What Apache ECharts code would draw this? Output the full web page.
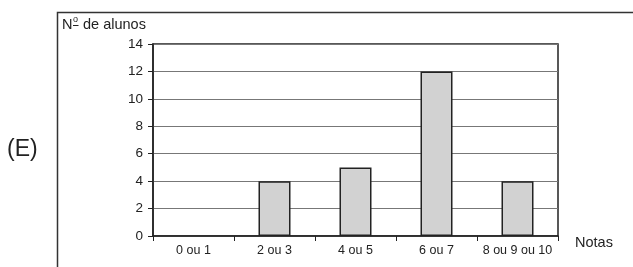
<!DOCTYPE html>
<html>
<head>
<meta charset="utf-8">
<script src="https://cdn.jsdelivr.net/npm/echarts@6/dist/echarts.min.js"></script>
<style>html,body{margin:0;padding:0;background:#fff;}#c{width:633px;height:267px;}</style>
</head>
<body>
<div id="c"></div>
<script>
var categories = ['0 ou 1', '2 ou 3', '4 ou 5', '6 ou 7', '8 ou 9 ou 10'];
var alunos = [0, 4, 5, 12, 4];
var yTicks = [0, 2, 4, 6, 8, 10, 12, 14];

var chart = echarts.init(document.getElementById('c'), null, {renderer: 'canvas'});
var font = 'Liberation Sans, Arial, sans-serif';
chart.setOption({
  animation: false,
  backgroundColor: '#fff',
  grid: {left: 153, right: 75, top: 44, bottom: 31, show: true, borderColor: '#222', borderWidth: 1.5, containLabel: false},
  graphic: [
    {type: 'rect', shape: {x: 57.5, y: 12.5, width: 700, height: 400}, style: {fill: 'none', stroke: '#333', lineWidth: 1.5}, z: 0},
    {type: 'text', left: 7, top: 138, style: {text: '(E)', font: '23px ' + font, fill: '#222'}},
    {type: 'text', left: 62, top: 17, style: {text: 'N', font: '14.5px ' + font, fill: '#222'}},
    {type: 'text', left: 73, top: 15, style: {text: 'o', font: '9px ' + font, fill: '#222'}},
    {type: 'line', shape: {x1: 73, y1: 25.5, x2: 78.5, y2: 25.5}, style: {stroke: '#222', lineWidth: 1}},
    {type: 'text', left: 83, top: 17, style: {text: 'de alunos', font: '14.5px ' + font, fill: '#222'}},
    {type: 'text', left: 575, top: 235, style: {text: 'Notas', font: '14.5px ' + font, fill: '#222'}}
  ],
  xAxis: {
    type: 'category',
    data: categories,
    axisLine: {lineStyle: {color: '#222', width: 1.5}},
    axisTick: {show: true, length: 5, lineStyle: {color: '#222'}},
    axisLabel: {color: '#222', fontSize: 12.5, fontFamily: font, margin: 8, interval: 0},
    splitLine: {show: false}
  },
  yAxis: {
    type: 'value',
    min: yTicks[0],
    max: yTicks[yTicks.length - 1],
    interval: 2,
    axisLine: {show: true, lineStyle: {color: '#222', width: 1.5}},
    axisTick: {show: true, length: 5, lineStyle: {color: '#222'}},
    axisLabel: {color: '#222', fontSize: 13.5, fontFamily: font, margin: 10},
    splitLine: {show: true, lineStyle: {color: '#777', width: 1}}
  },
  series: [{
    type: 'bar',
    data: alunos.map(function (v) { return v === 0 ? {value: v, itemStyle: {borderWidth: 0}} : v; }),
    barWidth: 32,
    itemStyle: {color: '#d2d2d2', borderColor: '#222', borderWidth: 1.5}
  }]
});
</script>
</body>
</html>
